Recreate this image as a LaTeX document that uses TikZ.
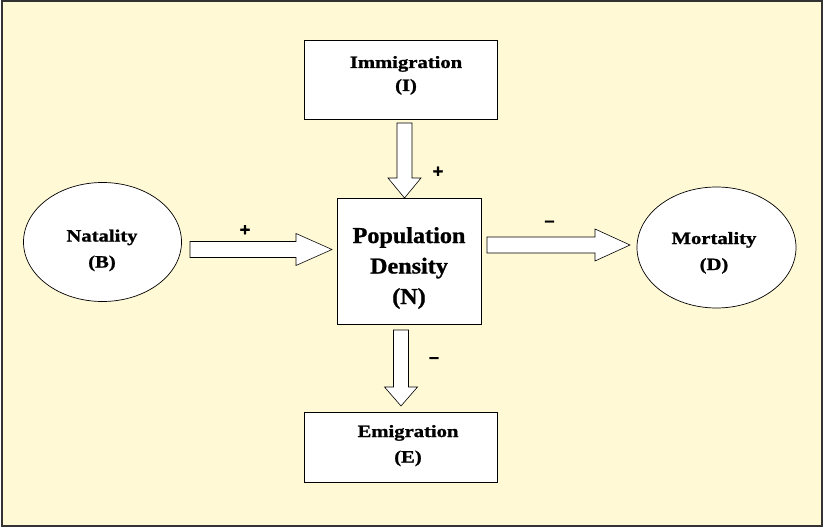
\documentclass[tikz,border=0pt]{standalone}
\usepackage{fontspec}
\setmainfont{Liberation Serif}
\newfontfamily\lblfont[FakeStretch=1.2,FakeBold=1.2]{Liberation Serif}
\newfontfamily\bigfont[FakeStretch=1.06,FakeBold=1]{Liberation Serif}
\newfontfamily\signfont[FakeBold=1]{Liberation Sans}
\usetikzlibrary{shapes.geometric}
\definecolor{bgyellow}{HTML}{FFF9D6}
\tikzset{
  boxnode/.style={draw=black, fill=white, line width=1pt, inner sep=0pt},
  ovalnode/.style={ellipse, draw=black, fill=white, line width=0.7pt, inner sep=0pt},
  labeltext/.style={font=\lblfont\bfseries\fontsize{17.2}{20}\selectfont, anchor=base, inner sep=0pt},
  bigtext/.style={font=\bigfont\bfseries\fontsize{22.8}{27}\selectfont, anchor=base, inner sep=0pt},
  signlabel/.style={font=\signfont\bfseries\fontsize{18}{18}\selectfont, inner sep=0pt},
  blockarrow/.style={draw=black, fill=white, line width=0.6pt, line join=miter},
}
% horizontal block arrow: xstart, xend, ycenter, headlength
\newcommand\myharrow[4]{%
  \draw[blockarrow] (#1,#3-8) -- (#2-#4,#3-8) -- (#2-#4,#3-16) -- (#2,#3)
    -- (#2-#4,#3+16) -- (#2-#4,#3+8) -- (#1,#3+8) -- cycle;}
% vertical block arrow: xcenter, ystart, yend, headlength
\newcommand\myvarrow[4]{%
  \draw[blockarrow] (#1-7.5,#2) -- (#1-7.5,#3-#4) -- (#1-16.5,#3-#4) -- (#1,#3)
    -- (#1+16.5,#3-#4) -- (#1+7.5,#3-#4) -- (#1+7.5,#2) -- cycle;}
\begin{document}
\begin{tikzpicture}[x=1pt,y=-1pt]
\useasboundingbox (0,0) rectangle (823,527);
\draw[fill=bgyellow, draw=black!80, line width=2pt] (1.5,1.5) rectangle (821.5,525.5);

\node[boxnode, minimum width=193pt, minimum height=79pt] (imm) at (400.5,80.5) {};
\node[labeltext] (imm1) at (406,68) {Immigration};
\node[labeltext] (imm2) at (406,91) {(I)};

\node[boxnode, minimum width=144pt, minimum height=126pt] (pd) at (409,261) {};
\node[bigtext] (pd1) at (409,243) {Population};
\node[bigtext] (pd2) at (409,273.5) {Density};
\node[bigtext] (pd3) at (409,304) {(N)};

\node[boxnode, minimum width=193pt, minimum height=70pt] (emi) at (400.5,447) {};
\node[labeltext] (emi1) at (408,437) {Emigration};
\node[labeltext] (emi2) at (408,462.5) {(E)};

\node[ovalnode, minimum width=158pt, minimum height=119pt] (nat) at (102.5,242) {};
\node[labeltext] (nat1) at (102,241.5) {Natality};
\node[labeltext] (nat2) at (102,267.5) {(B)};

\node[ovalnode, minimum width=159pt, minimum height=121pt] (mor) at (716.5,247.5) {};
\node[labeltext] (mor1) at (714,244) {Mortality};
\node[labeltext] (mor2) at (714,270) {(D)};

\myharrow{190}{332}{249.5}{36}
\myharrow{487}{630}{245}{35}
\myvarrow{404.5}{123}{198}{20}
\myvarrow{401}{330}{406}{19}

\node[signlabel] (s1) at (245,230.5) {+};
\node[signlabel] (s2) at (438,172) {+};
\node[signlabel] (s3) at (549.5,223.5) {–};
\node[signlabel] (s4) at (434,360) {–};
\end{tikzpicture}
\end{document}
